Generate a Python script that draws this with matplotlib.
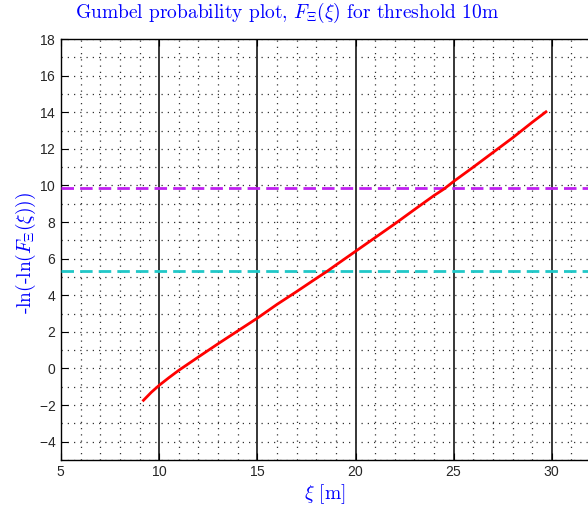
import matplotlib
matplotlib.use("Agg")
import matplotlib.pyplot as plt
from matplotlib.ticker import MultipleLocator

# red curve
xi = [9.2, 9.6, 10.0, 10.5, 11.0, 12.0, 13.0, 14.0, 15.0, 16.0, 17.0, 18.0, 18.5,
      19.0, 20.0, 21.0, 22.0, 23.0, 24.0, 24.5, 25.0, 26.0, 27.0, 28.0, 29.0, 29.7]
gumbel = [-1.74, -1.3, -0.92, -0.5, -0.1, 0.63, 1.35, 2.05, 2.75, 3.5, 4.2, 4.92, 5.27,
          5.65, 6.4, 7.15, 7.9, 8.68, 9.45, 9.8, 10.22, 11.0, 11.8, 12.6, 13.45, 14.02]

# horizontal reference levels
level_upper = 9.85
level_lower = 5.3

x_limits = (5, 35)
y_limits = (-5, 18)
x_ticks = [5, 10, 15, 20, 25, 30]
y_ticks = [-4, -2, 0, 2, 4, 6, 8, 10, 12, 14, 16, 18]

BLUE = "#0000ff"
SERIF = ["cmr10", "DejaVu Serif"]


def main():
    plt.rcParams["mathtext.fontset"] = "cm"
    plt.rcParams["axes.unicode_minus"] = False
    plt.rcParams["axes.formatter.use_mathtext"] = True
    plt.rcParams["font.family"] = ["Liberation Sans", "DejaVu Sans"]

    fig = plt.figure(figsize=(5.88, 5.11), dpi=100)
    ax = fig.add_axes([61/588, 51/511, 589/588, 421/511])

    ax.plot(xi, gumbel, color="red", linewidth=2.0, zorder=4)
    ax.axhline(level_upper, color="#c020f0", linestyle=(0, (4.5, 2.2)), linewidth=2, zorder=3)
    ax.axhline(level_lower, color="#20c8c8", linestyle=(0, (4.5, 2.2)), linewidth=2, zorder=3)

    ax.set_xlim(*x_limits)
    ax.set_ylim(*y_limits)
    ax.set_xticks(x_ticks)
    ax.xaxis.set_minor_locator(MultipleLocator(1))
    ax.set_yticks(y_ticks)
    ax.yaxis.set_minor_locator(MultipleLocator(1))

    ax.tick_params(which="both", direction="in", top=True, right=True,
                   labelsize=10, labelcolor="#262626")
    ax.tick_params(which="major", length=5)
    ax.tick_params(which="minor", length=0)

    dots = (0, (1, 4))
    ax.xaxis.grid(True, which="major", color="black", linestyle="-", linewidth=1.1)
    ax.xaxis.grid(True, which="minor", color="#333333", linestyle=dots, linewidth=0.9)
    ax.yaxis.grid(True, which="both", color="#333333", linestyle=dots, linewidth=0.9)
    ax.set_axisbelow(True)
    for s in ax.spines.values():
        s.set_color("black")
        s.set_linewidth(1.0)

    fig.text(287/588, 1 - 13/511,
             r"Gumbel probability plot, $F_{\Xi}(\xi)$ for threshold 10m",
             color=BLUE, fontsize=14, family=SERIF, ha="center", va="center")
    fig.text(325/588, 1 - 494/511, r"$\xi$ [m]",
             color=BLUE, fontsize=14, family=SERIF, ha="center", va="center")
    fig.text(26/588, 1 - 253/511, r"-ln(-ln($F_{\Xi}(\xi)$))",
             color=BLUE, fontsize=14, family=SERIF, ha="center", va="center", rotation=90)

    fig.savefig("out.png", dpi=100)


if __name__ == "__main__":
    main()
